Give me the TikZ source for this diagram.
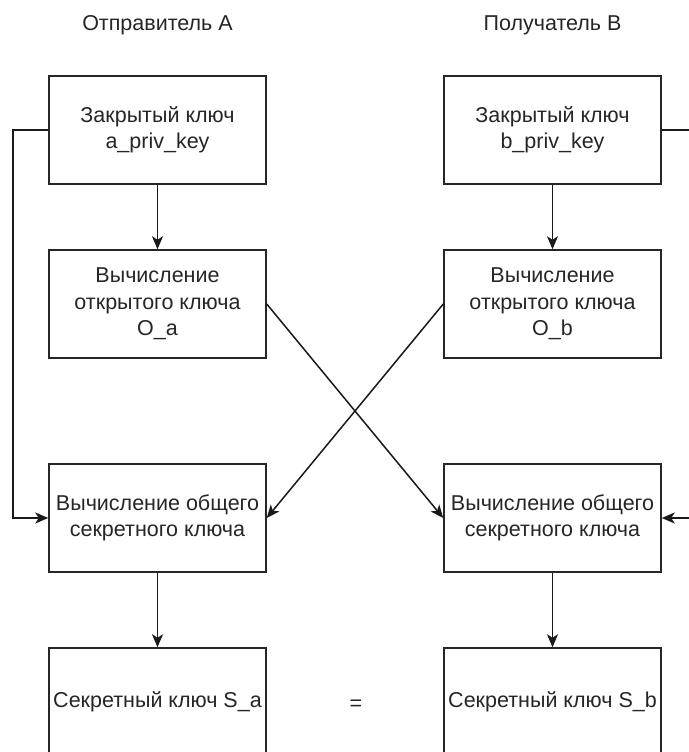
\documentclass[tikz,border=0pt]{standalone}
\usepackage{fontspec}
\setmainfont{Liberation Sans}
\usepackage{tikz}
\usetikzlibrary{arrows.meta}
\usetikzlibrary{graphs}

\begin{document}
\begin{tikzpicture}[x=1pt, y=-1pt,
    every node/.style={font=\fontsize{21.5}{26.5}\selectfont, text=black!85},
    block/.style={draw=black!85, line width=1.5pt, fill=white,
        minimum width=217pt, minimum height=108pt, inner sep=0pt, align=center},
    conn/.style={line width=1.5pt, draw=black!90},
    >={Stealth[length=13pt, width=11pt, inset=3.5pt]}]
            \useasboundingbox (0,0) rectangle (688,752);

            \node (titleA) at (157.5, 25) {Отправитель А};
            \node (titleB) at (552.5, 25) {Получатель В};

            \node[block] (privA) at (157.5, 130) {Закрытый ключ\\a\_priv\_key};
            \node[block] (pubA) at (157.5, 304) {Вычисление\\открытого ключа\\O\_a};
            \node[block] (sharedA) at (157.5, 518) {Вычисление общего\\секретного ключа};
            \node[block] (secA) at (157.5, 702) {Секретный ключ S\_a};

            \node[block] (privB) at (552.5, 130) {Закрытый ключ\\b\_priv\_key};
            \node[block] (pubB) at (552.5, 304) {Вычисление\\открытого ключа\\O\_b};
            \node[block] (sharedB) at (552.5, 518) {Вычисление общего\\секретного ключа};
            \node[block] (secB) at (552.5, 702) {Секретный ключ S\_b};

            \node (eq) at (356, 705) {=};

            \coordinate (loopA1) at (13, 130);
            \coordinate (loopA2) at (13, 518);
            \coordinate (loopB1) at (690, 130);
            \coordinate (loopB2) at (690, 518);

            \graph[edges=conn] {(privA) -> (pubA)};
            \graph[edges=conn] {(sharedA) -> (secA)};
            \graph[edges=conn] {(privB) -> (pubB)};
            \graph[edges=conn] {(sharedB) -> (secB)};
            \draw[conn, ->] (pubA.east) -- (sharedB.west);
            \draw[conn, ->] (pubB.west) -- (sharedA.east);
            \draw[conn, ->] (privA.west) -- (loopA1) -- (loopA2) -- (sharedA.west);
            \draw[conn] (privB.east) -- (loopB1);
            \draw[conn, ->] (loopB2) -- (sharedB.east);
        \end{tikzpicture}
\end{document}
